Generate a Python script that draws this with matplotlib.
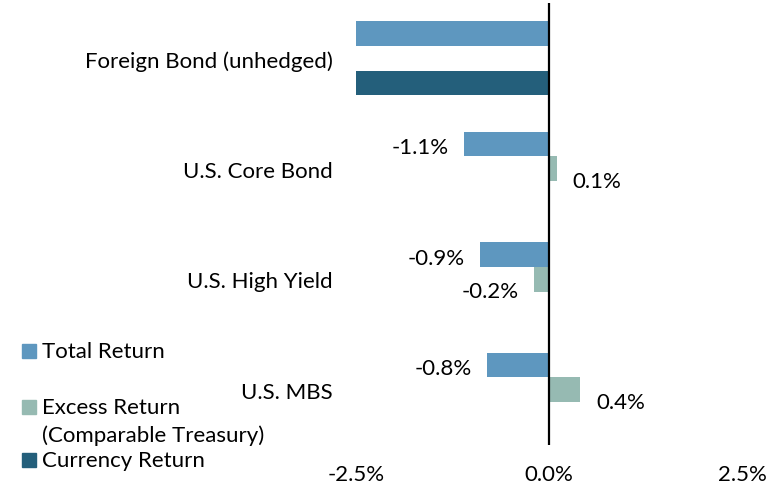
import numpy as np
import matplotlib
matplotlib.use("Agg")
import matplotlib.pyplot as plt
from matplotlib.patches import Rectangle

plt.rcParams['font.family'] = ['Lato', 'DejaVu Sans']

categories = ["Foreign Bond (unhedged)", "U.S. Core Bond", "U.S. High Yield", "U.S. MBS"]
series_names = ["Total Return", "Excess Return", "Currency Return"]
excess_note = "(Comparable Treasury)"
total_return = [-2.5, -1.1, -0.9, -0.8]
excess_return = [np.nan, 0.1, -0.2, 0.4]
currency_return = [-2.5, np.nan, np.nan, np.nan]
colors = ["#5E97BF", "#96BAB2", "#245F7B"]
x_ticks = [-2.5, 0.0, 2.5]

FS = 16

fig = plt.figure(figsize=(7.79, 4.89), dpi=100)
ax = fig.add_axes([356 / 779, 1 - 446 / 489, 386 / 779, 442 / 489])

y = np.arange(len(categories))
h = 0.222
series = [total_return, excess_return, currency_return]
label_dy = [-3, -12, -3]
for i, (vals, col) in enumerate(zip(series, colors)):
    pos = y + (i - 1) * h
    ax.barh(pos, vals, height=h, color=col, edgecolor="none")
    for p, v in zip(pos, vals):
        if np.isnan(v) or abs(v) >= 2.5:
            continue
        dx = -15 if v < 0 else 16
        ax.annotate(f"{v:.1f}%", (v, p), xytext=(dx, label_dy[i]),
                    textcoords="offset pixels", ha="right" if v < 0 else "left",
                    va="center", fontsize=FS)

ax.axvline(0, color="black", lw=1.6)
ax.set_xlim(-2.5, 2.5)
ax.set_ylim(3.5, -0.5)
ax.set_xticks(x_ticks)
ax.set_xticklabels([f"{t:.1f}%" for t in x_ticks], fontsize=FS)
ax.set_yticks(y)
ax.set_yticklabels(categories, fontsize=FS)
ax.tick_params(axis="x", length=0, pad=14)
ax.tick_params(axis="y", length=0, pad=16.5)
for s in ax.spines.values():
    s.set_visible(False)

# legend, laid out like the original
leg_y = [352, 408, 461]
for name, col, yy in zip(series_names, colors, leg_y):
    fig.patches.append(Rectangle((22 / 779, 1 - (yy + 7) / 489), 14 / 779, 14 / 489,
                                 transform=fig.transFigure, color=col))
    fig.text(42 / 779, 1 - yy / 489, name, fontsize=FS, va="center", ha="left")
fig.text(42 / 779, 1 - 436 / 489, excess_note, fontsize=FS, va="center", ha="left")

fig.savefig("out.png", dpi=100)
